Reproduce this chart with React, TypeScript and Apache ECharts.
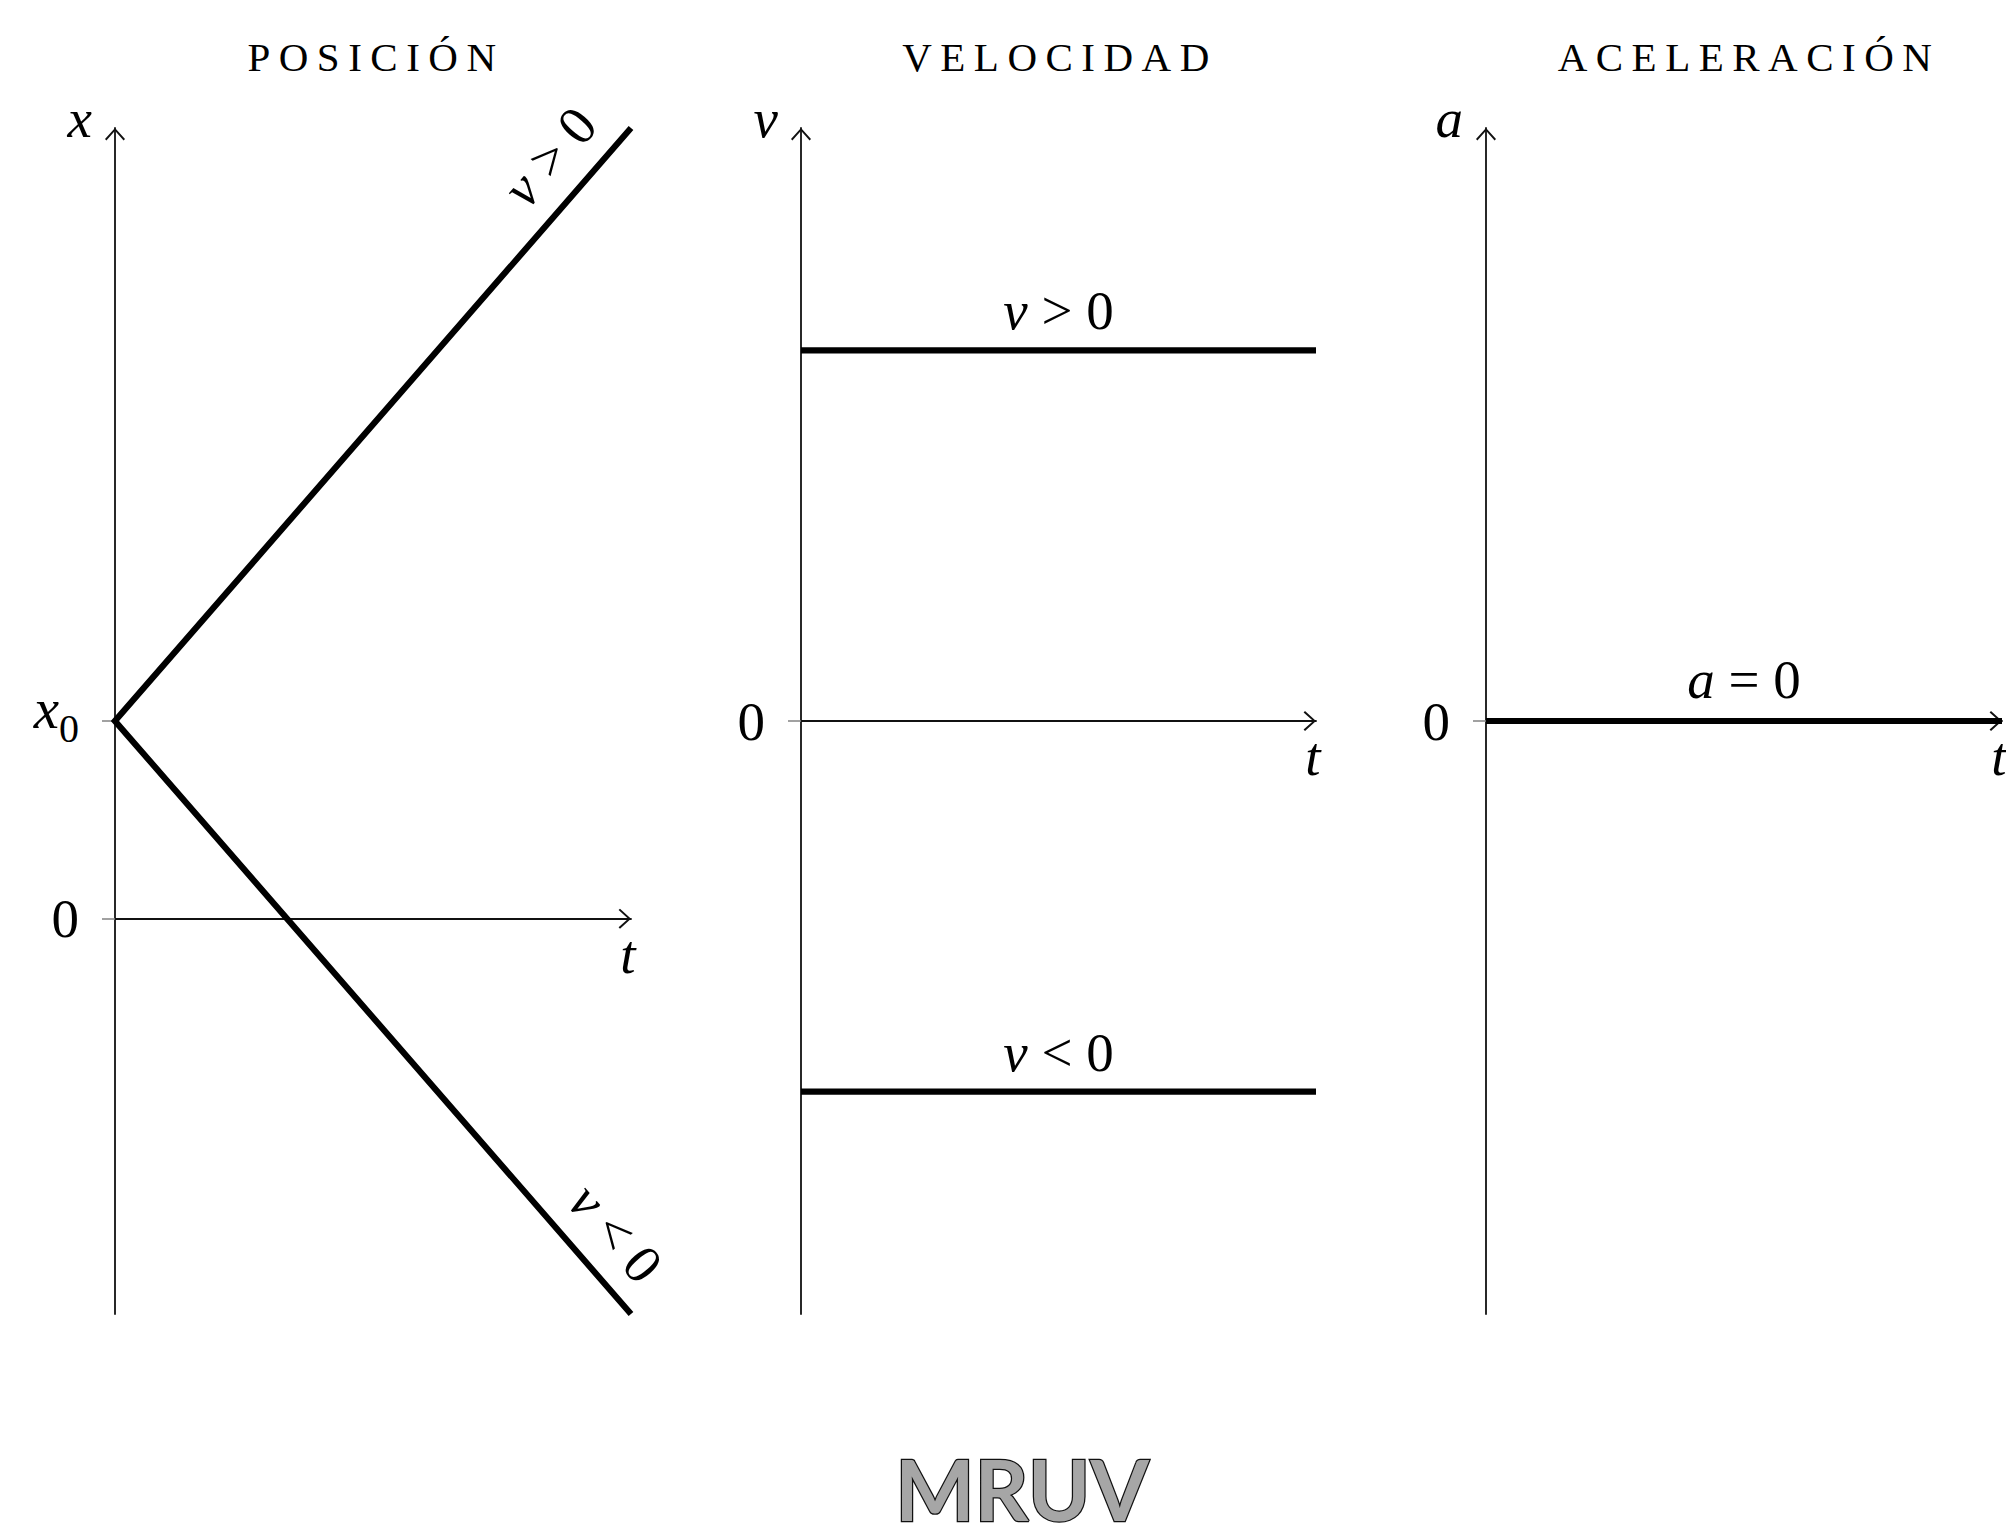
import React, { useEffect, useRef } from 'react';
import * as echarts from 'echarts';

// ---------------- data ----------------
const panelTitles = ['POSICIÓN', 'VELOCIDAD', 'ACELERACIÓN'];
const footerTitle = 'MRUV';
const timeRange = [0, 3];
const positionStart = 1; // x0
const positionEndUp = 4; // v > 0
const positionEndDown = -2; // v < 0
const positionRange = [-2, 4];
const positionTicks = [0, 1];
const positionTickLabels = ['0', 'x0'];
const velocityUp = [5, 5];
const velocityDown = [-5, -5];
const velocityRange = [-8, 8];
const accelerationZero = [0, 0];
const accelerationRange = [-8, 8];
const zeroTicks = [0];
const zeroTickLabels = ['0'];
const verticalNames = ['x', 'v', 'a'];
const horizontalName = 't';
const slopeLabels = ['v > 0', 'v < 0'];
const velocityLabels = ['v > 0', 'v < 0'];
const accelerationLabel = 'a = 0';

// ---------------- styling ----------------
const SERIF = '"Liberation Serif", "DejaVu Serif", serif';
const GRID_LEFT = [115, 801, 1486];
const GRID_WIDTH = [516, 515, 516];
const GRID_TOP = 128;
const GRID_HEIGHT = 1186;
const TITLE_X = [376, 1060, 1749];
const AXIS_COLOR = '#111';
const ARROW = 'path://M10,0 L20,11 L18.6,12.4 L10,2.8 L1.4,12.4 L0,11 Z';
const TITLE_SPACING = '8.5px';

const mathRich: any = {
  i: { fontFamily: SERIF, fontStyle: 'italic', fontSize: 55, color: '#000' },
  r: { fontFamily: SERIF, fontSize: 55, color: '#000' },
};

// first character italic (math variable), rest upright; spaces kept as no-break spaces
function mathText(s: string) {
  const rest = s.slice(1).replace(/ /g, '\u00a0');
  return `{i|${s[0]}}{r|${rest}}`;
}

function tickText(s: string) {
  if (s.length > 1) return `{xi|${s[0]}}{xs|${s.slice(1)}}`;
  return `{n|${s}}`;
}

const tickRich: any = {
  xi: { fontFamily: SERIF, fontStyle: 'italic', fontSize: 57, color: '#000', lineHeight: 83, verticalAlign: 'top' },
  xs: { fontFamily: SERIF, fontSize: 40, color: '#000', verticalAlign: 'bottom', padding: [0, 0, 14, 0] },
  n: { fontFamily: SERIF, fontSize: 55, color: '#000' },
};

function xAxisFor(i: number) {
  return {
    type: 'value',
    gridIndex: i,
    min: timeRange[0],
    max: timeRange[1],
    axisLine: {
      show: true,
      onZero: true,
      symbol: ['none', ARROW],
      symbolSize: [20, 12.4],
      symbolOffset: [0, -6.2],
      lineStyle: { color: AXIS_COLOR, width: 1.8 },
    },
    axisTick: { show: false },
    axisLabel: { show: false },
    splitLine: { show: false },
    name: horizontalName,
    nameLocation: 'end',
    nameGap: -3,
    nameMoveOverlap: false,
    nameTextStyle: {
      fontFamily: SERIF,
      fontStyle: 'italic',
      fontSize: 55,
      color: '#000',
      align: 'center',
      verticalAlign: 'top',
      padding: [8, 0, 0, 0],
    },
  };
}

function yAxisFor(i: number, range: number[], ticks: number[], labels: string[]) {
  return {
    type: 'value',
    gridIndex: i,
    min: range[0],
    max: range[1],
    axisLine: {
      show: true,
      onZero: true,
      symbol: ['none', ARROW],
      symbolSize: [20, 12.4],
      symbolOffset: [0, -6.2],
      lineStyle: { color: AXIS_COLOR, width: 1.8 },
    },
    axisTick: {
      show: true,
      customValues: ticks,
      length: 13,
      lineStyle: { color: '#8a8a8a', width: 1.6 },
    },
    axisLabel: {
      show: true,
      customValues: ticks,
      margin: 36,
      formatter: (v: number) => tickText(labels[ticks.indexOf(v)] ?? ''),
      rich: tickRich,
    },
    splitLine: { show: false },
    name: verticalNames[i],
    nameLocation: 'end',
    nameGap: 10,
    nameMoveOverlap: false,
    nameTextStyle: {
      fontFamily: SERIF,
      fontStyle: 'italic',
      fontSize: 55,
      color: '#000',
      align: 'right',
      verticalAlign: 'middle',
      padding: [0, 23, 0, 0],
    },
  };
}

function labelLine(from: number[], to: number[], text: string, position: string, distance: any) {
  return [
    {
      coord: from,
      label: {
        show: true,
        position,
        distance,
        formatter: () => mathText(text),
        rich: mathRich,
      },
    },
    { coord: to },
  ];
}

const hiddenMarkLine = (data: any[]) => ({
  silent: true,
  symbol: ['none', 'none'],
  lineStyle: { color: 'transparent', width: 0 },
  emphasis: { disabled: true },
  data,
});

export default function App() {
  const ref = useRef<HTMLDivElement>(null);

  useEffect(() => {
    if (!ref.current) return;
    const chart = echarts.init(ref.current, null, { renderer: 'svg' });

    const grids = [0, 1, 2].map((i) => ({
      left: GRID_LEFT[i],
      top: GRID_TOP,
      width: GRID_WIDTH[i],
      height: GRID_HEIGHT,
      containLabel: false,
      outerBoundsMode: 'none',
    }));

    const thick = { color: '#000', width: 6.2, join: 'miter', cap: 'butt' };

    const option: any = {
      animation: false,
      backgroundColor: '#fff',
      textStyle: { fontFamily: SERIF },
      title: panelTitles.map((t, i) => ({
        text: t,
        left: TITLE_X[i],
        top: 36,
        padding: 0,
        textAlign: 'center',
        textStyle: { fontFamily: SERIF, fontSize: 41, fontWeight: 'normal', color: '#000' },
      })),
      grid: grids,
      xAxis: [0, 1, 2].map((i) => xAxisFor(i)),
      yAxis: [
        yAxisFor(0, positionRange, positionTicks, positionTickLabels),
        yAxisFor(1, velocityRange, zeroTicks, zeroTickLabels),
        yAxisFor(2, accelerationRange, zeroTicks, zeroTickLabels),
      ],
      series: [
        {
          name: 'posición',
          type: 'line',
          xAxisIndex: 0,
          yAxisIndex: 0,
          clip: false,
          symbol: 'none',
          lineStyle: thick,
          data: [
            [timeRange[1], positionEndUp],
            [timeRange[0], positionStart],
            [timeRange[1], positionEndDown],
          ],
          markLine: hiddenMarkLine([
            labelLine([timeRange[0], positionStart], [timeRange[1], positionEndUp], slopeLabels[0], 'insideEndTop', [20, 15]),
            labelLine([timeRange[0], positionStart], [timeRange[1], positionEndDown], slopeLabels[1], 'insideEndTop', [16, 14]),
          ]),
        },
        {
          name: 'velocidad positiva',
          type: 'line',
          xAxisIndex: 1,
          yAxisIndex: 1,
          clip: false,
          symbol: 'none',
          lineStyle: thick,
          data: timeRange.map((t, k) => [t, velocityUp[k]]),
          markLine: hiddenMarkLine([
            labelLine([timeRange[0], velocityUp[0]], [timeRange[1], velocityUp[1]], velocityLabels[0], 'insideMiddleTop', 12),
          ]),
        },
        {
          name: 'velocidad negativa',
          type: 'line',
          xAxisIndex: 1,
          yAxisIndex: 1,
          clip: false,
          symbol: 'none',
          lineStyle: thick,
          data: timeRange.map((t, k) => [t, velocityDown[k]]),
          markLine: hiddenMarkLine([
            labelLine([timeRange[0], velocityDown[0]], [timeRange[1], velocityDown[1]], velocityLabels[1], 'insideMiddleTop', 12),
          ]),
        },
        {
          name: 'aceleración',
          type: 'line',
          xAxisIndex: 2,
          yAxisIndex: 2,
          clip: false,
          symbol: 'none',
          lineStyle: thick,
          data: timeRange.map((t, k) => [t, accelerationZero[k]]),
          markLine: hiddenMarkLine([
            labelLine([timeRange[0], accelerationZero[0]], [timeRange[1], accelerationZero[1]], accelerationLabel, 'insideMiddleTop', 14),
          ]),
        },
      ],
      graphic: [
        {
          type: 'text',
          x: 1022,
          y: 1488,
          silent: true,
          style: {
            text: footerTitle,
            fontFamily: 'Lato, "Open Sans", sans-serif',
            fontWeight: 'bold',
            fontSize: 84,
            lineHeight: 66,
            textAlign: 'center',
            textVerticalAlign: 'middle',
            fill: '#a6a6a6',
            stroke: '#111',
            lineWidth: 2.5,
          },
        },
      ],
    };

    chart.setOption(option);

    const applySpacing = () => {
      const root = ref.current;
      if (!root) return;
      root.querySelectorAll('text').forEach((el) => {
        if (panelTitles.includes((el.textContent || '').trim())) {
          (el as SVGTextElement).style.letterSpacing = TITLE_SPACING;
        }
      });
    };
    try {
      (chart as any).getZr().flush();
    } catch (e) {
      /* ignore */
    }
    applySpacing();
    chart.on('finished', applySpacing);
    const raf = requestAnimationFrame(applySpacing);

    return () => {
      cancelAnimationFrame(raf);
      chart.dispose();
    };
  }, []);

  return (
    <div
      ref={ref}
      style={{ position: 'fixed', left: 0, top: 0, width: 2006, height: 1539, background: '#fff' }}
    />
  );
}
